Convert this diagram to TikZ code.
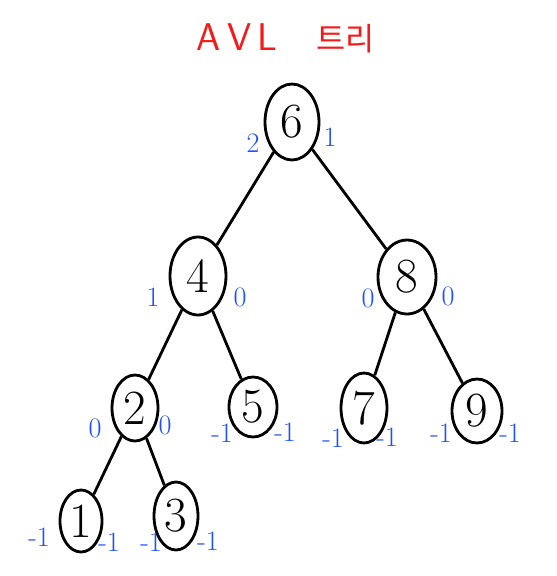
\documentclass[tikz,border=0pt]{standalone}
\usepackage{fontspec}
\newfontfamily\cjk{Noto Sans CJK KR}
\usetikzlibrary{shapes.geometric}
\definecolor{bfblue}{RGB}{30,80,250}
\definecolor{titlered}{RGB}{245,25,25}
\tikzset{
  avl/.style={draw,ellipse,line width=1.6pt,inner sep=0pt,font=\fontsize{28}{28}\selectfont},
  bf/.style={text=bfblue,inner sep=0pt,font=\fontsize{16}{16}\selectfont},
  edge/.style={line width=1.6pt}
}
\begin{document}
\begin{tikzpicture}[x=0.02cm,y=-0.02cm]
  \useasboundingbox (0,0) rectangle (556,576);
  % title
  \node[text=titlered,inner sep=0pt] (title) at (286,38) {\fontsize{22}{22}\selectfont\sffamily A\hspace{0.12cm}V\hspace{0.12cm}L\hspace{0.8cm}{\cjk\fontsize{18}{18}\selectfont 트리}};
  % nodes
  \node[avl,minimum width=1.08cm,minimum height=1.52cm] (n6) at (292,122) {6};
  \node[avl,minimum width=1.12cm,minimum height=1.56cm] (n4) at (198,276) {4};
  \node[avl,minimum width=1.16cm,minimum height=1.48cm] (n8) at (407,277) {8};
  \node[avl,minimum width=0.92cm,minimum height=1.32cm] (n2) at (135,408) {2};
  \node[avl,minimum width=0.96cm,minimum height=1.2cm] (n5) at (253,407) {5};
  \node[avl,minimum width=0.92cm,minimum height=1.4cm] (n7) at (364,408) {7};
  \node[avl,minimum width=1.0cm,minimum height=1.28cm] (n9) at (477,411) {9};
  \node[avl,minimum width=0.84cm,minimum height=1.24cm] (n1) at (81,521) {1};
  \node[avl,minimum width=0.88cm,minimum height=1.36cm] (n3) at (176,516) {3};
  % edges
  \draw[edge] (n6) -- (n4);
  \draw[edge] (n6) -- (n8);
  \draw[edge] (n4) -- (n2);
  \draw[edge] (n4) -- (n5);
  \draw[edge] (n8) -- (n7);
  \draw[edge] (n8) -- (n9);
  \draw[edge] (n2) -- (n1);
  \draw[edge] (n2) -- (n3);
  % balance factors
  \node[bf] (b6l) at (253,143) {2};
  \node[bf] (b6r) at (330,137) {1};
  \node[bf] (b4l) at (153,297) {1};
  \node[bf] (b4r) at (240,297) {0};
  \node[bf] (b8l) at (368,298) {0};
  \node[bf] (b8r) at (448,296) {0};
  \node[bf] (b2l) at (95,428) {0};
  \node[bf] (b2r) at (165,425) {0};
  \node[bf] (b5l) at (222,433) {-1};
  \node[bf] (b5r) at (285,432) {-1};
  \node[bf] (b7l) at (333,438) {-1};
  \node[bf] (b7r) at (387,437) {-1};
  \node[bf] (b9l) at (441,433) {-1};
  \node[bf] (b9r) at (510,433) {-1};
  \node[bf] (b1l) at (39,537) {-1};
  \node[bf] (b1r) at (109,542) {-1};
  \node[bf] (b3l) at (151,542) {-1};
  \node[bf] (b3r) at (208,541) {-1};
\end{tikzpicture}
\end{document}
